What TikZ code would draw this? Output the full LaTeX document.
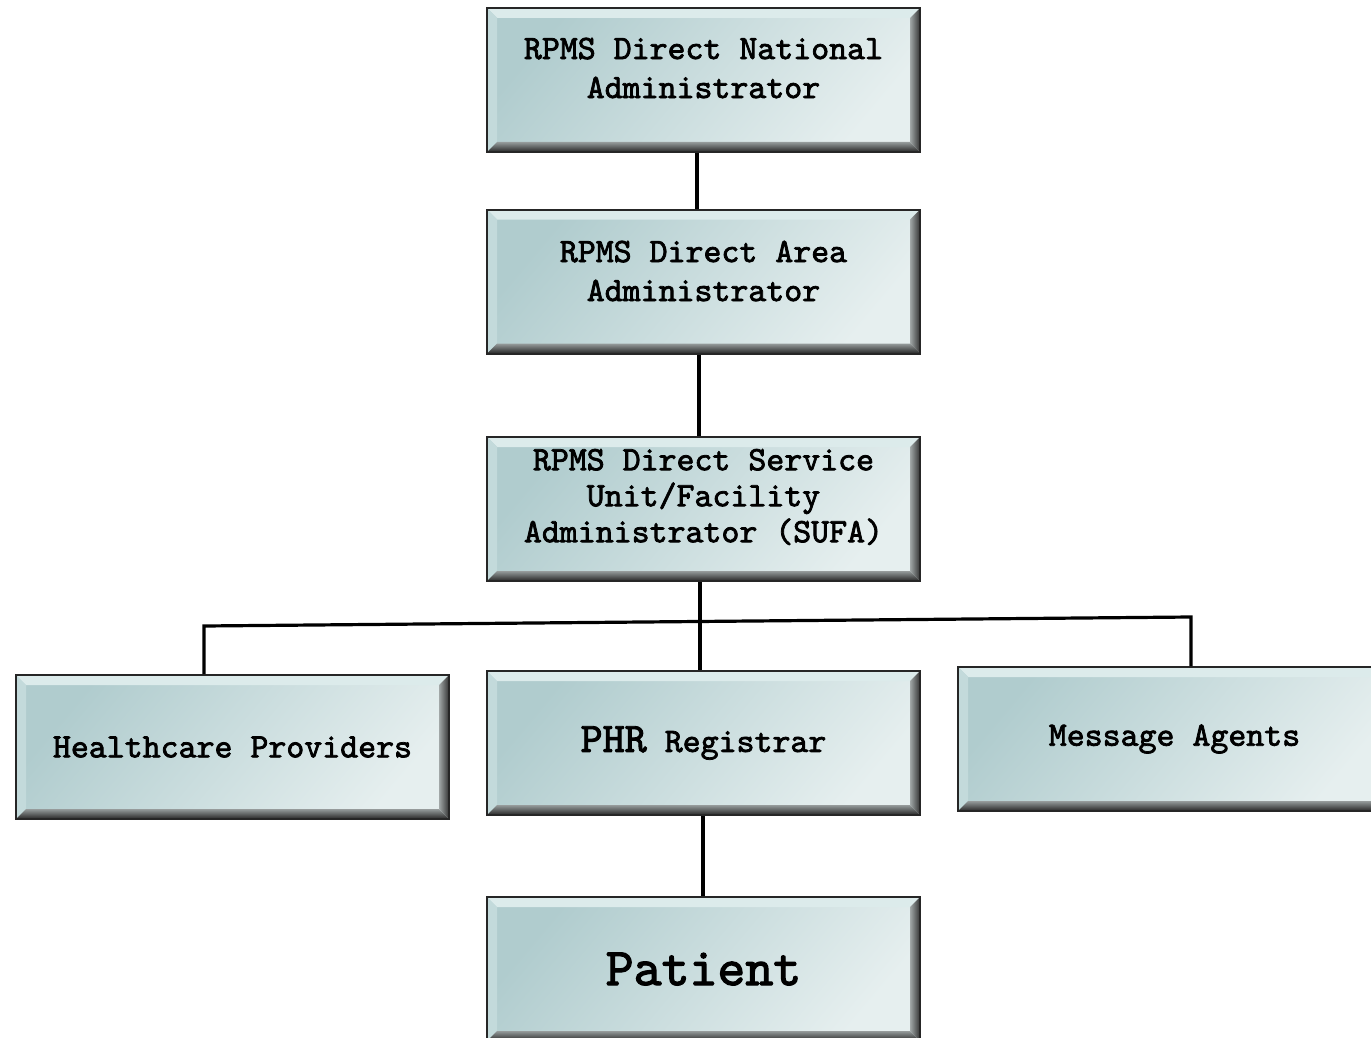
\documentclass[tikz,border=0pt]{standalone}
\usepackage{fontspec}
\newfontfamily\bxface[FakeBold=2.2]{lmmono10-regular.otf}
\definecolor{tealA}{HTML}{B0CCCE}
\definecolor{tealB}{HTML}{E6EFEF}
\definecolor{bevTop}{HTML}{DCEBEB}
\definecolor{bevLeft}{HTML}{C3DADB}
\newcommand{\bxfont}{\bxface\fontsize{17.1}{19.5}\selectfont}
\tikzset{
  bbox/.style={rectangle, draw=black!85, line width=1pt, minimum width=216.5pt,
    minimum height=72pt, inner sep=0pt, font=\bxfont,
    top color=tealA, bottom color=tealB, shading angle=50,
    path picture={
      \coordinate (pA) at (path picture bounding box.north west);
      \coordinate (pB) at (path picture bounding box.north east);
      \coordinate (pC) at (path picture bounding box.south east);
      \coordinate (pD) at (path picture bounding box.south west);
      \fill[bevTop] (pA) -- (pB) -- ([shift={(-5pt,-5pt)}]pB) -- ([shift={(5pt,-5pt)}]pA) -- cycle;
      \fill[bevLeft] (pA) -- (pD) -- ([shift={(5pt,5pt)}]pD) -- ([shift={(5pt,-5pt)}]pA) -- cycle;
      \shade[top color=black!35!tealB, bottom color=black!85] (pD) -- (pC) -- ([shift={(-5pt,5pt)}]pC) -- ([shift={(5pt,5pt)}]pD) -- cycle;
      \shade[left color=black!30!tealB, right color=black!80] (pB) -- (pC) -- ([shift={(-5pt,5pt)}]pC) -- ([shift={(-5pt,-5pt)}]pB) -- cycle;
    }},
  lbl/.style={align=center, inner sep=0pt, font=\bxfont},
  link/.style={line width=1.6pt, black}
}
\begin{document}
\begin{tikzpicture}[x=0.5pt, y=-0.5pt]
\clip (0,0) rectangle (1371,1038);
\fill[white] (0,0) rectangle (1371,1038);

\node[bbox] (nat) at (703.5,80) {};
\node[lbl] (natT) at (703.5,68) {RPMS Direct National\\Administrator};
\node[bbox] (area) at (703.5,281.5) {};
\node[lbl] (areaT) at (703.5,271) {RPMS Direct Area\\Administrator};
\node[bbox] (sufa) at (703.5,509) {};
\node[lbl, font=\bxface\fontsize{17.1}{18}\selectfont] (sufaT) at (703.5,497) {RPMS Direct Service\\Unit/Facility\\Administrator (SUFA)};
\node[bbox] (hc) at (232.5,747) {Healthcare Providers};
\node[bbox] (phr) at (703.5,743) {{\fontsize{21}{22}\selectfont PHR} Registrar};
\node[bbox] (msg) at (1174.5,739) {Message Agents};
\node[bbox, font=\bxface\fontsize{26.6}{30}\selectfont] (pat) at (703.5,969) {Patient};

\coordinate (x1) at (697,0);
\coordinate (x2) at (699,0);
\coordinate (x3) at (700,0);
\coordinate (x4) at (703,0);
\coordinate (hl) at (204,626);
\coordinate (hr) at (1191,617);

\draw[link] (nat.south -| x1) -- (area.north -| x1);
\draw[link] (area.south -| x2) -- (sufa.north -| x2);
\draw[link] (sufa.south -| x3) -- (phr.north -| x3);
\draw[link] (hc.north -| hl) -- (hl) -- (hr) -- (msg.north -| hr);
\draw[link] (phr.south -| x4) -- (pat.north -| x4);
\end{tikzpicture}
\end{document}
